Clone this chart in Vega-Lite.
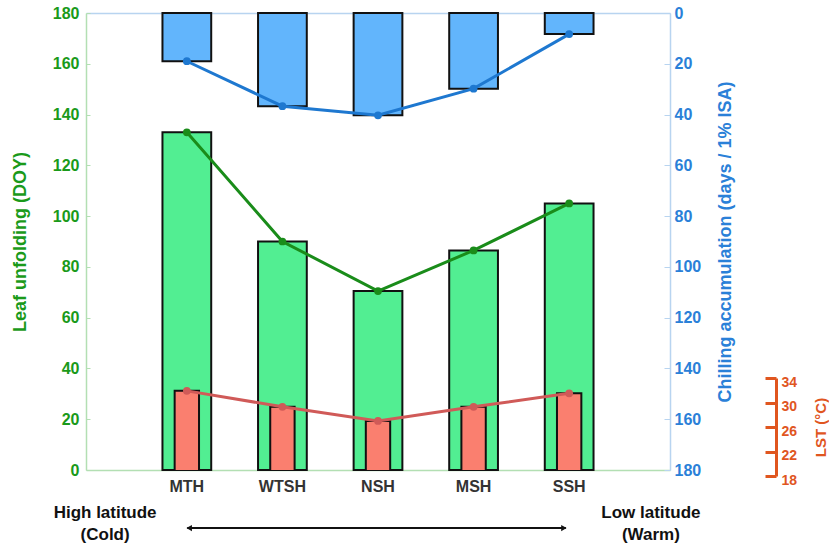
{
  "$schema": "https://vega.github.io/schema/vega-lite/v6.json",
  "width": 584,
  "height": 457,
  "padding": {"left": 11, "top": 5, "right": 0, "bottom": 0},
  "config": {
    "font": "Liberation Sans",
    "view": {"stroke": null},
    "axis": {"labelFont": "Liberation Sans", "titleFont": "Liberation Sans", "grid": false}
  },
  "data": {
    "values": [
      {"site": "MTH", "leaf": 133, "chill": 19, "lst": 31.9},
      {"site": "WTSH", "leaf": 90, "chill": 36.7, "lst": 29.3},
      {"site": "NSH", "leaf": 70.5, "chill": 40.3, "lst": 27.0},
      {"site": "MSH", "leaf": 86.5, "chill": 29.8, "lst": 29.3},
      {"site": "SSH", "leaf": 105, "chill": 8.3, "lst": 31.5}
    ]
  },
  "layer": [
    {
      "encoding": {
        "x": {
          "field": "site", "type": "nominal", "sort": null,
          "scale": {"paddingInner": 0.49, "paddingOuter": 0.8},
          "axis": {"title": null, "labelAngle": 0, "labelFontWeight": "bold", "labelFontSize": 16,
                   "labelColor": "#333333", "ticks": false, "labelPadding": 8,
                   "domainColor": "#b3dfb3", "domainWidth": 1.5}
        }
      },
      "layer": [
        {
          "mark": {"type": "bar", "fill": "#52EE92", "stroke": "#111111", "strokeWidth": 2},
          "encoding": {
            "y": {
              "field": "leaf", "type": "quantitative",
              "scale": {"domain": [0, 180]},
              "axis": {"title": "Leaf unfolding (DOY)", "titleColor": "#1A9A1A", "titleFontSize": 18,
                       "titleFontWeight": "bold", "labelColor": "#1A9A1A", "labelFontSize": 16,
                       "labelFontWeight": "bold", "values": [0, 20, 40, 60, 80, 100, 120, 140, 160, 180],
                       "tickSize": -4, "tickColor": "#b3dfb3", "domainColor": "#b3dfb3", "domainWidth": 1.5,
                       "labelPadding": 11, "titlePadding": 23}
            }
          }
        },
        {
          "mark": {"type": "line", "color": "#1A8C1A", "strokeWidth": 3,
                   "point": {"filled": true, "size": 60, "color": "#1A8C1A"}},
          "encoding": {"y": {"field": "leaf", "type": "quantitative"}}
        }
      ]
    },
    {
      "encoding": {
        "x": {
          "field": "site", "type": "nominal", "sort": null,
          "scale": {"paddingInner": 0.49, "paddingOuter": 0.8},
          "axis": {"orient": "top", "title": null, "labels": false, "ticks": false,
                   "domainColor": "#b8d4f0", "domainWidth": 1.5}
        }
      },
      "layer": [
        {
          "mark": {"type": "bar", "fill": "#62B5FC", "stroke": "#111111", "strokeWidth": 2},
          "encoding": {
            "y": {
              "field": "chill", "type": "quantitative",
              "scale": {"domain": [0, 180], "reverse": true},
              "axis": {"orient": "right", "title": "Chilling accumulation (days / 1% ISA)", "titleAngle": 270,
                       "titleColor": "#2A80D8", "titleFontSize": 18, "titleFontWeight": "bold",
                       "labelColor": "#2A80D8", "labelFontSize": 16, "labelFontWeight": "bold",
                       "values": [0, 20, 40, 60, 80, 100, 120, 140, 160, 180],
                       "tickSize": -6, "tickColor": "#b8d4f0", "domainColor": "#b8d4f0", "domainWidth": 1.5,
                       "labelPadding": 10, "titlePadding": 34}
            }
          }
        },
        {
          "mark": {"type": "line", "color": "#1E78D0", "strokeWidth": 3,
                   "point": {"filled": true, "size": 60, "color": "#1E78D0"}},
          "encoding": {"y": {"field": "chill", "type": "quantitative"}}
        }
      ]
    },
    {
      "encoding": {
        "x": {
          "field": "site", "type": "nominal", "sort": null,
          "scale": {"paddingInner": 0.49, "paddingOuter": 0.8},
          "axis": null
        }
      },
      "layer": [
        {
          "mark": {"type": "bar", "fill": "#FA7F6F", "stroke": "#111111", "strokeWidth": 2, "width": {"band": 0.5}, "clip": true},
          "encoding": {
            "y": {
              "field": "lst", "type": "quantitative",
              "scale": {"domain": [18, 34], "range": [463, 365]},
              "axis": {"orient": "right", "offset": 106, "title": "LST (°C)", "titleAngle": 270,
                       "titleColor": "#E0561F", "titleFontSize": 15, "titleFontWeight": "bold",
                       "labelColor": "#E0561F", "labelFontSize": 14, "labelFontWeight": "bold",
                       "values": [18, 22, 26, 30, 34], "labelOffset": 4,
                       "tickSize": -11, "tickWidth": 3, "tickColor": "#E0561F",
                       "domainColor": "#E0561F", "domainWidth": 3,
                       "labelPadding": 16, "titlePadding": 32}
            }
          }
        },
        {
          "mark": {"type": "line", "color": "#D05A58", "strokeWidth": 3,
                   "point": {"filled": true, "size": 60, "color": "#D05A58"}},
          "encoding": {"y": {"field": "lst", "type": "quantitative"}}
        }
      ]
    },
    {
      "data": {"values": [
        {"end": "High latitude", "climate": "(Cold)"},
        {"end": "Low latitude", "climate": "(Warm)"}
      ]},
      "encoding": {
        "x": {"field": "end", "type": "nominal", "sort": null,
              "scale": {"type": "point", "padding": 0.035}, "axis": null}
      },
      "layer": [
        {
          "mark": {"type": "text", "fontSize": 17, "fontWeight": "bold", "color": "#111111", "baseline": "middle"},
          "encoding": {
            "y": {"datum": -0.095, "type": "quantitative", "scale": {"domain": [0, 1]}, "axis": null},
            "text": {"field": "end"}
          }
        },
        {
          "mark": {"type": "text", "fontSize": 17, "fontWeight": "bold", "color": "#111111", "baseline": "middle"},
          "encoding": {
            "y": {"datum": -0.142, "type": "quantitative"},
            "text": {"field": "climate"}
          }
        }
      ]
    },
    {
      "data": {"values": [{"span": "latitude gradient"}]},
      "encoding": {
        "x": {"datum": 1.04, "type": "quantitative", "scale": {"domain": [0, 6]}, "axis": null},
        "y": {"datum": -0.127, "type": "quantitative", "scale": {"domain": [0, 1]}, "axis": null}
      },
      "layer": [
        {
          "mark": {"type": "rule", "color": "#111111", "strokeWidth": 2},
          "encoding": {"x2": {"datum": 4.93}}
        },
        {
          "mark": {"type": "point", "shape": "triangle-left", "filled": true, "size": 40, "color": "#111111", "opacity": 1},
          "encoding": {"x": {"datum": 1.06, "type": "quantitative"}}
        },
        {
          "mark": {"type": "point", "shape": "triangle-right", "filled": true, "size": 40, "color": "#111111", "opacity": 1},
          "encoding": {"x": {"datum": 4.91, "type": "quantitative"}}
        }
      ]
    }
  ],
  "resolve": {"scale": {"x": "independent", "y": "independent"}}
}
